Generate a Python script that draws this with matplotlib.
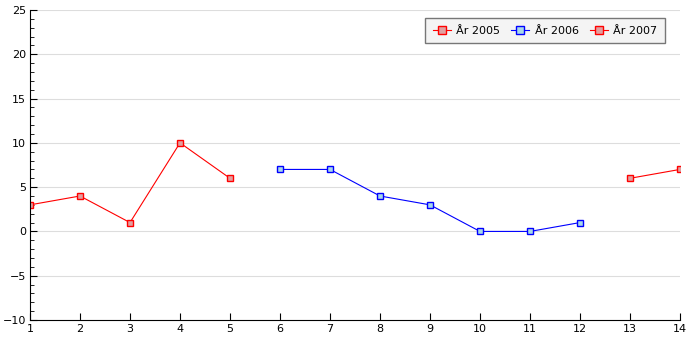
import matplotlib as mpl
mpl.use('Agg')
import matplotlib.pyplot as plt
from matplotlib.ticker import MultipleLocator

x_2005 = [1, 2, 3, 4, 5]
y_2005 = [3, 4, 1, 10, 6]
x_2006 = [6, 7, 8, 9, 10, 11, 12]
y_2006 = [7, 7, 4, 3, 0, 0, 1]
x_2007 = [13, 14]
y_2007 = [6, 7]
labels = ['År 2005', 'År 2006', 'År 2007']

fig = plt.figure(figsize=(7, 3.5), dpi=100)
ax = fig.add_axes([30/700, 30/350, 650/700, 310/350])

ax.plot(x_2005, y_2005, color='red', lw=0.8, marker='s', ms=4,
        mfc='#e0a0a0', mec='red', mew=1, label=labels[0])
ax.plot(x_2006, y_2006, color='blue', lw=0.8, marker='s', ms=4,
        mfc='#a8d8e8', mec='blue', mew=1, label=labels[1])
ax.plot(x_2007, y_2007, color='red', lw=0.8, marker='s', ms=4,
        mfc='#e0a0a0', mec='red', mew=1, label=labels[2])

ax.set_xlim(1, 14)
ax.set_ylim(-10, 25)
ax.set_xticks(range(1, 15))
ax.yaxis.set_major_locator(MultipleLocator(5))
ax.yaxis.set_minor_locator(MultipleLocator(1))
ax.grid(axis='y', color='#dddddd', lw=0.8)
ax.set_axisbelow(True)
for s in ['top', 'right']:
    ax.spines[s].set_visible(False)
ax.tick_params(direction='in', labelsize=8, length=5, pad=3)
ax.tick_params(which='minor', direction='in', length=3)

leg = ax.legend(loc='upper right', bbox_to_anchor=(0.977, 0.975), ncol=3,
                fontsize=8, fancybox=False, framealpha=1, markerscale=1.6,
                handlelength=1.6, handletextpad=0.5, columnspacing=1.0,
                borderpad=0.7, borderaxespad=0)
leg.get_frame().set_facecolor('#f4f4f4')
leg.get_frame().set_edgecolor('#777777')

plt.savefig('out.png')
